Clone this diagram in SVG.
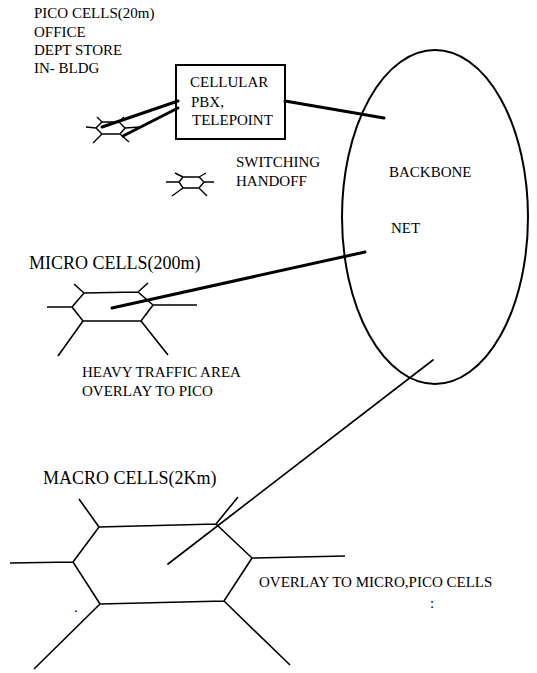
<svg xmlns="http://www.w3.org/2000/svg" width="537" height="673" viewBox="0 0 537 673" font-family="'Liberation Serif', 'DejaVu Serif', serif">
<style>
.t15{font-size:15px;font-family:'Liberation Serif','DejaVu Serif',serif}
.t18{font-size:18px;font-family:'Liberation Serif','DejaVu Serif',serif}
.hex{fill:none;stroke:#000;stroke-width:1.6;stroke-linejoin:miter}
.hexs{fill:none;stroke:#000;stroke-width:1.4}
.thick{fill:none;stroke:#000;stroke-width:3;stroke-linecap:round}
.thin{fill:none;stroke:#000;stroke-width:1.7;stroke-linecap:round}
</style>
<rect width="537" height="673" fill="#fff"/>
<g id="pico-label" class="t15" font-family="Liberation Serif, serif">
<text class="t15" x="34" y="18">PICO CELLS(20m)</text>
<text class="t15" x="34" y="37">OFFICE</text>
<text class="t15" x="34" y="55">DEPT STORE</text>
<text class="t15" x="34" y="73">IN- BLDG</text>
</g>
<g id="pico-cell-1">
<path class="hexs" d="M96,128 L102,122 L119,122 L125,128 L120,134 L102,134 Z M96,128 L86,127 M102,122 L97,117 M119,122 L124,117 M125,128 L140,127 M120,134 L129,142 M102,134 L93,143"/>
</g>
<g id="pico-cell-2">
<path class="hexs" d="M179,182 L183,177 L199,177 L204,182 L199,188 L183,188 Z M179,182 L166,182 M183,177 L175,173 M199,177 L206,173 M204,182 L214,182 M199,188 L207,196 M183,188 L172,196"/>
</g>
<g id="pbx" font-family="Liberation Serif, serif">
<rect x="176" y="65" width="109" height="74" fill="none" stroke="#000" stroke-width="2"/>
<text class="t15" x="190" y="87">CELLULAR</text>
<text class="t15" x="191" y="107">PBX,</text>
<text class="t15" x="192" y="125">TELEPOINT</text>
</g>
<g id="switching-label" font-family="Liberation Serif, serif">
<text class="t15" x="236" y="167">SWITCHING</text>
<text class="t15" x="236" y="186">HANDOFF</text>
</g>
<g id="backbone" font-family="Liberation Serif, serif">
<ellipse cx="435" cy="217" rx="93" ry="167" fill="none" stroke="#000" stroke-width="2"/>
<text class="t15" x="389" y="177">BACKBONE</text>
<text class="t15" x="391" y="233">NET</text>
</g>
<g id="micro-cell" font-family="Liberation Serif, serif">
<text class="t18" x="29" y="269">MICRO CELLS(200m)</text>
<path class="hex" d="M72,307 L84,293 L138,292 L153,305 L141,321 L83,321 Z M72,307 L47,307 M84,293 L74,284 M138,292 L148,283 M153,305 L197,305 M141,321 L168,355 M83,321 L58,356"/>
<text class="t15" x="82" y="377">HEAVY TRAFFIC AREA</text>
<text class="t15" x="82" y="396">OVERLAY TO PICO</text>
</g>
<g id="macro-cell" font-family="Liberation Serif, serif">
<text class="t18" x="43" y="484">MACRO CELLS(2Km)</text>
<path class="hex" d="M73,562 L99,527 L216,524 L252,558 L224,601 L100,604 Z M73,562 L10,563 M99,527 L79,499 M216,524 L238,497 M252,558 L345,556 M224,601 L290,665 M100,604 L34,669"/>
<text class="t15" x="259" y="587">OVERLAY TO MICRO,PICO CELLS</text>
<text class="t15" x="430" y="608">:</text>
<text class="t15" x="74" y="612">.</text>
</g>
<g id="connectors">
<path class="thick" d="M178,101 L102,127"/>
<path class="thick" d="M178,108 L123,136"/>
<path class="thick" d="M285,101 L384,118"/>
<path class="thick" d="M112,308 L365,252"/>
<path class="thin" d="M168,564 L433,360"/>
</g>
</svg>
